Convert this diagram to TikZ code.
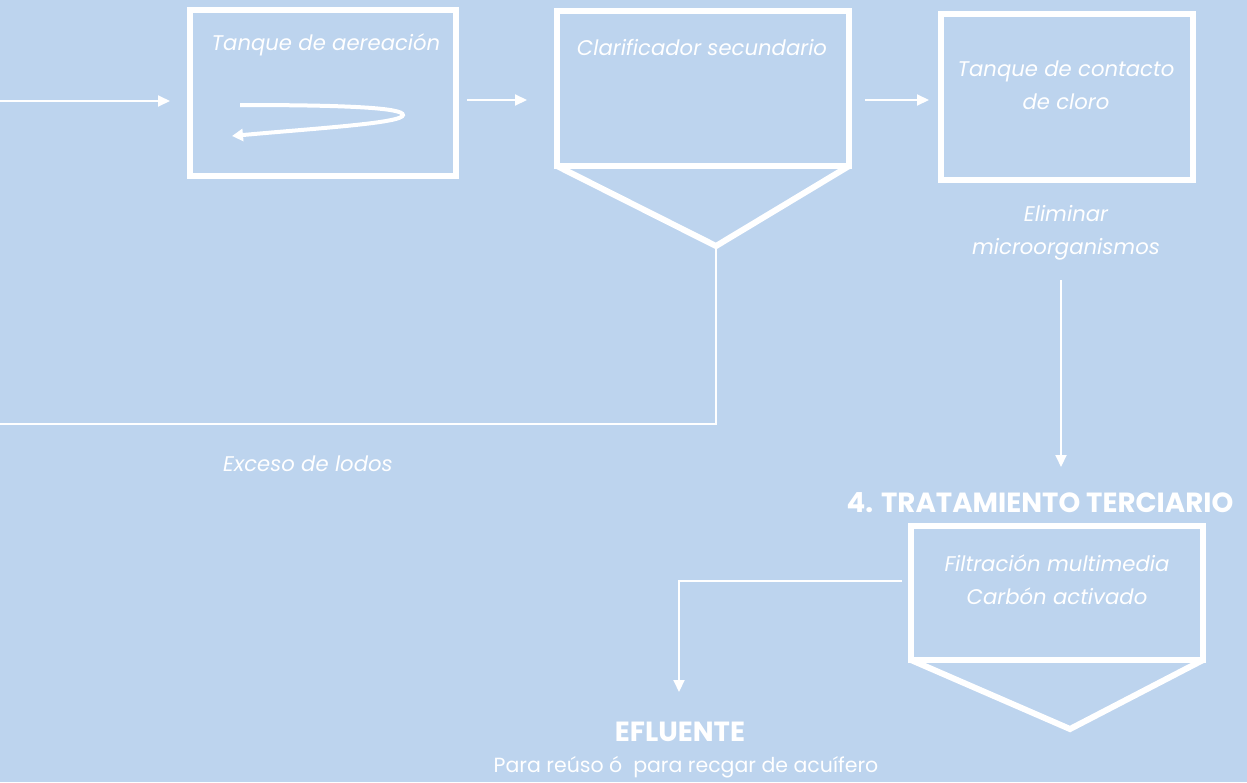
\documentclass[tikz,border=0pt]{standalone}
\usepackage{fontspec}
\setmainfont{Poppins}
\usetikzlibrary{arrows.meta}
\definecolor{bgblue}{HTML}{BDD4EE}
\tikzset{
  tank/.style={draw=white, line width=6pt},
  conn/.style={draw=white, line width=2pt},
  arr/.style={conn, -{Triangle[length=12pt,width=11pt]}},
  lbl/.style={text=white, font=\fontsize{21.2}{33}\selectfont\itshape, align=center, inner sep=0pt},
  head/.style={text=white, font=\fontsize{27.7}{30}\selectfont\bfseries, inner sep=0pt},
  sub/.style={text=white, font=\fontsize{20.5}{24}\selectfont, inner sep=0pt}
}
\begin{document}
\begin{tikzpicture}[x=1pt,y=-1pt]
\fill[bgblue] (0,0) rectangle (1247,782);
\useasboundingbox (0,0) rectangle (1247,782);

% boxes
\draw[tank] (190,10) rectangle (456,176);
\draw[tank] (557,11) rectangle (849,166);
\draw[tank, line join=miter] (557,166) -- (716,246) -- (849,166);
\node[coordinate] (b2apex) at (716,249) {};
\draw[tank] (941,14) rectangle (1193,180);
\draw[tank] (911,526) rectangle (1203,660);
\draw[tank, line join=miter] (911,660) -- (1070,729) -- (1203,660);

% texts
\node[lbl] (t1) at (326,45) {Tanque de aereación};
\node[lbl] (t2) at (702,47) {Clarificador secundario};
\node[lbl] (t3) at (1066,85) {Tanque de contacto\\de cloro};
\node[lbl] (t4) at (1066,233) {Eliminar\\microorganismos};
\node[lbl] (t5) at (308,464) {Exceso de lodos};
\node[lbl] (t6) at (1057,580) {Filtración multimedia\\Carbón activado};
\node[head] (h1) at (1040,503) {4. TRATAMIENTO TERCIARIO};
\node[head] (h2) at (680,732) {EFLUENTE};
\node[sub] (s1) at (686,767) {Para reúso ó\ \ para recgar de acuífero};

% connectors
\coordinate (in0) at (0,101);
\coordinate (in1) at (170,101);
\draw[arr] (in0) -- (in1);
\coordinate (a1s) at (467,100);
\coordinate (a1e) at (527,100);
\draw[arr] (a1s) -- (a1e);
\coordinate (a2s) at (865,100);
\coordinate (a2e) at (929,100);
\draw[arr] (a2s) -- (a2e);
\coordinate (a3s) at (1061,280);
\coordinate (a3e) at (1061,467);
\draw[arr] (a3s) -- (a3e);
\coordinate (sl) at (0,424);
\draw[conn] (b2apex) |- (sl);
\coordinate (f1) at (902,581);
\coordinate (f2) at (679,692);
\draw[arr] (f1) -| (f2);

% aeration curl
\coordinate (c1) at (240,105);
\coordinate (c2) at (403,115);
\coordinate (c3) at (232,136);
\draw[white, line width=4pt, -{Triangle[length=11pt,width=12pt]}]
  (c1) .. controls (350,105) and (403,108) .. (c2)
       .. controls (403,123) and (320,128) .. (c3);
\end{tikzpicture}
\end{document}
